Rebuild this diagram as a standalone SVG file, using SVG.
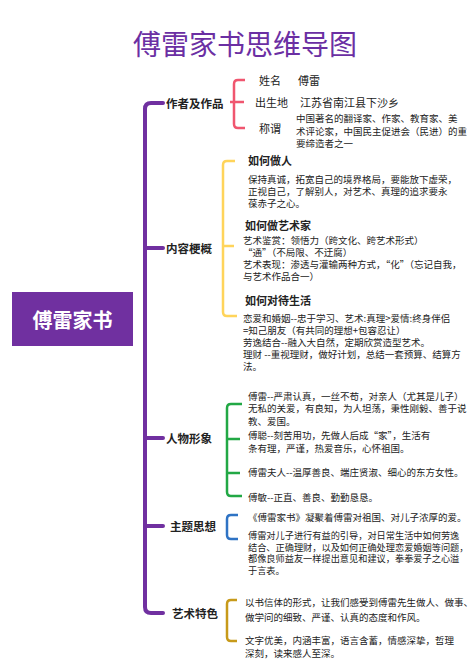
<svg xmlns="http://www.w3.org/2000/svg" width="474" height="670" viewBox="0 0 474 670">
<style>
text{font-family:"Noto Sans CJK SC","Noto Sans",sans-serif;fill:#222;dominant-baseline:central}
.title{font-size:28px;fill:#6B2FA3;text-anchor:middle}
.main{font-size:20px;fill:#fff;font-weight:bold;text-anchor:middle}
.br{font-size:11.5px;font-weight:bold}
.sub{font-size:11px;font-weight:bold}
.lbl{font-size:11px}
.t{font-size:9.5px}
.ts{font-size:9.2px}
.trunk{fill:none;stroke:#7030A0;stroke-width:4;stroke-linecap:round}
.bk{fill:none;stroke-width:2.5}
</style>
<rect width="474" height="670" fill="#fff"/>
<text class="title" x="245" y="43">傅雷家书思维导图</text>
<g id="root">
<rect x="12" y="292" width="121" height="54" fill="#7030A0"/>
<text class="main" x="72.5" y="319">傅雷家书</text>
</g>
<g id="connectors">
<path class="trunk" d="M163,103 H151 Q145,103 145,109 V607 Q145,613 151,613 H163 M145,248 H163 M145,438 H163 M145,526 H163"/>
<path class="bk" stroke="#F0566F" d="M245,80 H238 Q234,80 234,84 V124 Q234,128 238,128 H245 M230,102 H244"/>
<path class="bk" stroke="#FFD45A" d="M235,161 H227 Q223,161 223,165 V312 Q223,316 227,316 H237 M223,246 H234"/>
<path class="bk" stroke="#22A845" d="M242,404 H231 Q227,404 227,408 V492 Q227,496 231,496 H242 M227,439 H240 M227,473 H240"/>
<path class="bk" stroke="#2F73C4" d="M238,515 H231 Q227,515 227,519 V535 Q227,539 231,539 H238"/>
<path class="bk" stroke="#C79A1A" d="M237,600 H231 Q227,600 227,604 V637 Q227,641 231,641 H237"/>
</g>
<g id="author">
<text class="br" x="166" y="103">作者及作品</text>
<text class="lbl" x="259" y="80">姓名</text>
<text class="lbl" x="298" y="80">傅雷</text>
<text class="lbl" x="255" y="102">出生地</text>
<text class="lbl" x="300" y="102">江苏省南江县下沙乡</text>
<text class="lbl" x="259" y="128">称谓</text>
<text class="t" x="296" y="118">中国著名的翻译家、作家、教育家、美</text>
<text class="t" x="296" y="131">术评论家，中国民主促进会（民进）的重</text>
<text class="t" x="296" y="143">要缔造者之一</text>
</g>
<g id="content">
<text class="br" x="166" y="248">内容梗概</text>
<text class="sub" x="248" y="160">如何做人</text>
<text class="t" x="248" y="179">保持真诚，拓宽自己的境界格局，要能放下虚荣，</text>
<text class="t" x="248" y="191">正视自己，了解别人，对艺术、真理的追求要永</text>
<text class="t" x="248" y="203">葆赤子之心。</text>
<text class="sub" x="245" y="225">如何做艺术家</text>
<text class="t" x="243" y="240">艺术鉴赏：领悟力（跨文化、跨艺术形式）</text>
<text class="t" x="243" y="252">“通”（不局限、不迂腐）</text>
<text class="t" x="243" y="264">艺术表现：渗透与灌输两种方式，“化”（忘记自我，</text>
<text class="t" x="243" y="276">与艺术作品合一）</text>
<text class="sub" x="245" y="300">如何对待生活</text>
<text class="t" x="243" y="318">恋爱和婚姻--忠于学习、艺术:真理&gt;爱情:终身伴侣</text>
<text class="t" x="243" y="330">=知己朋友（有共同的理想+包容忍让）</text>
<text class="t" x="243" y="342">劳逸结合--融入大自然，定期欣赏造型艺术。</text>
<text class="t" x="243" y="354">理财 --重视理财，做好计划，总结一套预算、结算方</text>
<text class="t" x="243" y="366">法。</text>
</g>
<g id="characters">
<text class="br" x="166" y="438">人物形象</text>
<text class="t" x="248" y="396">傅雷--严肃认真，一丝不苟，对亲人（尤其是儿子）</text>
<text class="t" x="248" y="408">无私的关爱，有良知，为人坦荡，秉性刚毅、善于说</text>
<text class="t" x="248" y="421">教、爱国。</text>
<text class="t" x="248" y="435">傅聪--刻苦用功，先做人后成“家”，生活有</text>
<text class="t" x="248" y="448">条有理，严谨，热爱音乐，心怀祖国。</text>
<text class="t" x="248" y="472">傅雷夫人--温厚善良、端庄贤淑、细心的东方女性。</text>
<text class="t" x="248" y="497">傅敏--正直、善良、勤勤恳恳。</text>
</g>
<g id="theme">
<text class="br" x="170" y="526">主题思想</text>
<text class="t" x="248" y="517">《傅雷家书》凝聚着傅雷对祖国、对儿子浓厚的爱。</text>
<text class="ts" x="248" y="535">傅雷对儿子进行有益的引导，对日常生活中如何劳逸</text>
<text class="ts" x="248" y="546.5">结合、正确理财，以及如何正确处理恋爱婚姻等问题，</text>
<text class="ts" x="248" y="558">都像良师益友一样提出意见和建议，拳拳爱子之心溢</text>
<text class="ts" x="248" y="569.5">于言表。</text>
</g>
<g id="art">
<text class="br" x="172" y="613">艺术特色</text>
<text class="t" x="245" y="602">以书信体的形式，让我们感受到傅雷先生做人、做事、</text>
<text class="t" x="245" y="617">做学问的细致、严谨、认真的态度和作风。</text>
<text class="t" x="245" y="640">文字优美，内涵丰富，语言含蓄，情感深挚，哲理</text>
<text class="t" x="245" y="653">深刻，读来感人至深。</text>
</g>
</svg>
